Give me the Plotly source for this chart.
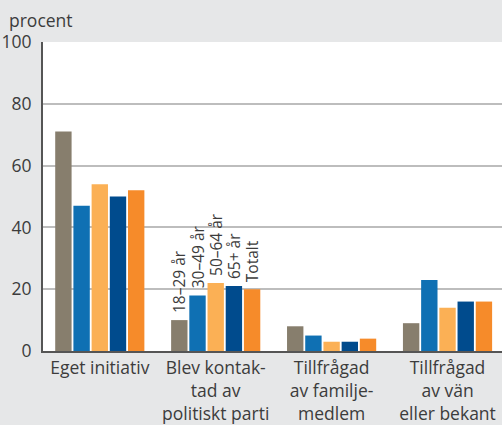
import plotly.graph_objects as go

categories = ["Eget initiativ", "Blev kontak-<br>tad av<br>politiskt parti",
              "Tillfrågad<br>av familje-<br>medlem", "Tillfrågad<br>av vän<br>eller bekant"]
series_names = ["18–29 år", "30–49 år", "50–64 år", "65+ år", "Totalt"]
v18_29 = [71, 10, 8, 9]
v30_49 = [47, 18, 5, 23]
v50_64 = [54, 22, 3, 14]
v65 = [50, 21, 3, 16]
vtot = [52, 20, 4, 16]
values = [v18_29, v30_49, v50_64, v65, vtot]
colors = ["#877e6d", "#0f70b3", "#fbb055", "#004b8d", "#f68b2a"]
y_ticks = [0, 20, 40, 60, 80, 100]
label_category = 1

FONT = "Open Sans"
TXT = "#3c3c3c"

fig = go.Figure()
for name, vals, col in zip(series_names, values, colors):
    texts = ["\u00a0" + name if i == label_category else "" for i in range(len(categories))]
    fig.add_trace(go.Bar(
        x=list(range(len(categories))), y=vals, name=name,
        marker=dict(color=col, line=dict(width=0)),
        text=texts, textposition="outside", textangle=-90,
        constraintext="none", cliponaxis=False,
        textfont=dict(family=FONT, size=15.5, color=TXT),
    ))

fig.update_layout(
    width=502, height=425,
    margin=dict(l=43, r=0, t=42, b=73.5, autoexpand=False),
    paper_bgcolor="#e6e7e8", plot_bgcolor="#ffffff",
    barmode="group", bargap=0.215, bargroupgap=0.1,
    showlegend=False,
    font=dict(family=FONT, size=17.5, color=TXT),
    annotations=[dict(text="procent", xref="paper", yref="paper",
                      x=-36/459, y=1 + 22/309.5, xanchor="left", yanchor="middle",
                      showarrow=False, font=dict(family=FONT, size=17.5, color=TXT))],
)
fig.update_xaxes(
    tickmode="array", tickvals=list(range(len(categories))), ticktext=categories,
    range=[-0.49, 3.47], showline=True, linecolor="#555555", linewidth=2,
    showgrid=False, ticks="", automargin=False,
    tickfont=dict(family=FONT, size=17.5, color=TXT),
)
fig.update_yaxes(
    range=[0, 100], tickvals=y_ticks, showline=True, linecolor="#555555", linewidth=2,
    showgrid=True, gridcolor="#bdbdbd", gridwidth=2, zeroline=False, ticks="",
    automargin=False, ticklabelstandoff=6,
    tickfont=dict(family=FONT, size=17.5, color=TXT),
)
fig.write_html("out.html", config={"displayModeBar": False, "staticPlot": True},
               post_script="document.body.style.margin='0';document.body.style.overflow='hidden';")
